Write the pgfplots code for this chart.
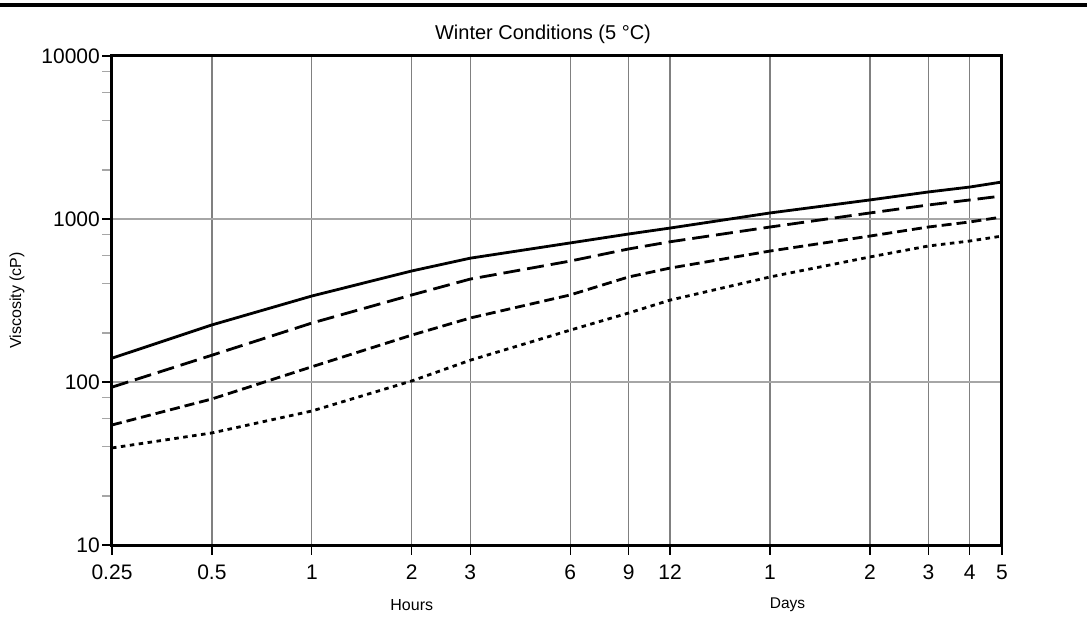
\documentclass[border=0pt]{standalone}
\usepackage{fontspec}
\setmainfont{Liberation Sans}
\usepackage{pgfplots}
\pgfplotsset{compat=1.18}
\begin{document}
\begin{tikzpicture}[x=1pt,y=1pt]
\path[use as bounding box] (0,0) rectangle (1087,-637);
\draw[line width=4pt] (0,-5) -- (1087,-5);
\begin{axis}[
 at={(112pt,-545pt)}, anchor=south west,
 scale only axis, width=890pt, height=489pt,
 xmode=log, ymode=log, xmin=0.25, xmax=120, ymin=10, ymax=10000,
 xtick={0.25,0.5,1,2,3,6,9,12,24,48,72,96,120},
 xticklabels={0.25,0.5,1,2,3,6,9,12,1,2,3,4,5},
 ytick={10,100,1000,10000}, yticklabels={10,100,1000,10000},
 minor ytick={20,40,60,80,200,400,600,800,2000,4000,6000,8000},
 tick align=outside, major tick length=10pt, minor tick length=10pt,
 tick pos=left,
 major tick style={black, line width=1.2pt},
 minor tick style={black!35, line width=1.2pt},
 xmajorgrids, ymajorgrids,
 major x grid style={black!50, line width=1.2pt},
 major y grid style={black!35, line width=1.2pt},
 axis line style={line width=3pt},
 /pgf/number format/assume math mode=true,
 tick label style={font=\fontsize{21}{21}\selectfont},
 xticklabel style={inner sep=2pt, yshift=-8pt},
 yticklabel style={inner sep=2pt},
 title={Winter Conditions (5 °C)},
 title style={font=\fontsize{20}{20}\selectfont, at={(0.5,1)}, anchor=base, yshift=10pt, xshift=-14pt},
]
\addplot[black, line width=2.8pt, sharp plot] coordinates {
 (0.25,140) (0.5,224) (1,337) (2,480) (3,575) (6,713) (9,809) (12,880)
 (24,1089) (48,1309) (72,1465) (96,1571) (120,1687)};
\addplot[black, line width=2.8pt, sharp plot, dash pattern=on 17pt off 7pt] coordinates {
 (0.25,93) (0.5,146) (1,230) (2,342) (3,428) (6,552) (9,655) (12,725)
 (24,893) (48,1089) (72,1219) (96,1309) (120,1384)};
\addplot[black, line width=2.8pt, sharp plot, dash pattern=on 10pt off 5pt] coordinates {
 (0.25,54.5) (0.5,78.7) (1,124) (2,194) (3,247) (6,342) (9,441) (12,500)
 (24,636) (48,786) (72,893) (96,959) (120,1029)};
\addplot[black, line width=2.8pt, sharp plot, dash pattern=on 4.5pt off 4.5pt] coordinates {
 (0.25,39.4) (0.5,48.7) (1,66.4) (2,101.5) (3,136) (6,208) (9,265) (12,318)
 (24,441) (48,585) (72,683) (96,733) (120,786)};
\coordinate (hrs) at (axis cs:2,10);
\coordinate (dys) at (axis cs:27.1,10);
\coordinate (ylab) at (rel axis cs:0,0.5);
\end{axis}
\node[font=\fontsize{16}{16}\selectfont] at ([yshift=-60pt]hrs) {Hours};
\node[font=\fontsize{15.5}{15.5}\selectfont] at ([yshift=-60pt]dys) {Days};
\node[font=\fontsize{16}{16}\selectfont, rotate=90] at ([xshift=-95pt]ylab) {Viscosity (cP)};
\end{tikzpicture}
\end{document}
